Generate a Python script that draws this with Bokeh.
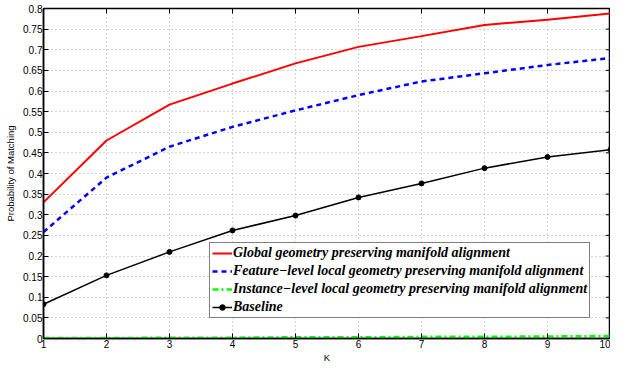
from bokeh.plotting import figure
from bokeh.models import (Range1d, FixedTicker, Legend, LegendItem,
                          CustomJSTickFormatter)
from bokeh.embed import file_html
from bokeh.resources import INLINE

K = [1, 2, 3, 4, 5, 6, 7, 8, 9, 10]
global_geo = [0.330, 0.480, 0.567, 0.618, 0.667, 0.707, 0.733, 0.760, 0.773, 0.788]
feature_local = [0.258, 0.390, 0.465, 0.513, 0.553, 0.590, 0.623, 0.643, 0.663, 0.680]
instance_local = [0.001, 0.001, 0.002, 0.002, 0.003, 0.003, 0.004, 0.004, 0.005, 0.006]
baseline = [0.083, 0.153, 0.210, 0.262, 0.298, 0.342, 0.376, 0.413, 0.440, 0.458]

x_ticks = [1, 2, 3, 4, 5, 6, 7, 8, 9, 10]
y_ticks = [0, 0.05, 0.1, 0.15, 0.2, 0.25, 0.3, 0.35, 0.4, 0.45, 0.5, 0.55,
           0.6, 0.65, 0.7, 0.75, 0.8]

labels = ["Global geometry preserving manifold alignment",
          "Feature\u2212level local geometry preserving manifold alignment",
          "Instance\u2212level local geometry preserving manifold alignment",
          "Baseline"]
x_title = "K"
y_title = "Probability of Matching"

p = figure(width=610, height=365, output_backend="svg", toolbar_location=None,
           x_range=Range1d(1, 10), y_range=Range1d(0, 0.8),
           min_border_left=43, min_border_right=0, min_border_top=8,
           min_border_bottom=0)
p.outline_line_color = "black"
p.outline_line_width = 1.5
p.background_fill_color = "white"
p.border_fill_color = "white"

tick_fmt = CustomJSTickFormatter(code="return String(Math.round(tick*100)/100);")

for ax in [p.xaxis[0], p.yaxis[0]]:
    ax.major_tick_in = 5
    ax.major_tick_out = 0
    ax.minor_tick_line_color = None
    ax.axis_line_color = "black"
    ax.axis_line_width = 1.5
    ax.major_tick_line_color = "black"
    ax.major_label_text_font = "Liberation Sans"
    ax.major_label_text_font_size = "10px"
    ax.major_label_text_color = "black"
    ax.axis_label_text_font = "Liberation Sans"
    ax.axis_label_text_font_size = "9.5px"
    ax.axis_label_text_font_style = "normal"
    ax.axis_label_text_color = "black"
    ax.major_label_standoff = 1
    ax.axis_label_standoff = 1

p.xaxis[0].ticker = FixedTicker(ticks=x_ticks)
p.yaxis[0].ticker = FixedTicker(ticks=y_ticks)
p.yaxis[0].formatter = tick_fmt
p.xaxis.axis_label = x_title
p.yaxis.axis_label = y_title
p.yaxis[0].axis_label_standoff = 4

p.xgrid.ticker = FixedTicker(ticks=x_ticks)
p.ygrid.ticker = FixedTicker(ticks=y_ticks)
for g in [p.xgrid[0], p.ygrid[0]]:
    g.grid_line_color = "#a8a8a8"
    g.grid_line_dash = "1 3"
    g.grid_line_width = 1

# inward ticks on the top and right frame edges
y_top = [0.8] * len(x_ticks)
p.segment(x0=x_ticks, y0=y_top, x1=x_ticks, y1=[0.8 - 0.012] * len(x_ticks),
          line_color="black", line_width=1)
x_right = [10] * len(y_ticks)
p.segment(x0=x_right, y0=y_ticks, x1=[10 - 0.075] * len(y_ticks), y1=y_ticks,
          line_color="black", line_width=1)

r1 = p.line(K, global_geo, line_color="#ff0000", line_width=2)
r2 = p.line(K, feature_local, line_color="#0000ff", line_width=2.5, line_dash="5 4")
r3 = p.line(K, instance_local, line_color="#00ff00", line_width=2.5, line_dash="6 3 2 3")
r4 = p.line(K, baseline, line_color="black", line_width=1.5)
r4b = p.scatter(K, baseline, size=5, fill_color="black", line_color="black")

legend = Legend(items=[LegendItem(label=labels[0], renderers=[r1]),
                       LegendItem(label=labels[1], renderers=[r2]),
                       LegendItem(label=labels[2], renderers=[r3]),
                       LegendItem(label=labels[3], renderers=[r4, r4b])],
                location=(166, 20))
legend.label_text_font = "Liberation Serif"
legend.label_text_font_style = "bold italic"
legend.label_text_font_size = "14px"
legend.label_text_color = "black"
legend.label_height = 14
legend.label_standoff = 1
legend.glyph_width = 20
legend.glyph_height = 14
legend.spacing = 2
legend.padding = 2
legend.margin = 0
legend.border_line_color = "black"
legend.border_line_width = 1.5
legend.background_fill_alpha = 1
p.add_layout(legend, "center")

open("out.html", "w").write(file_html(p, INLINE))
